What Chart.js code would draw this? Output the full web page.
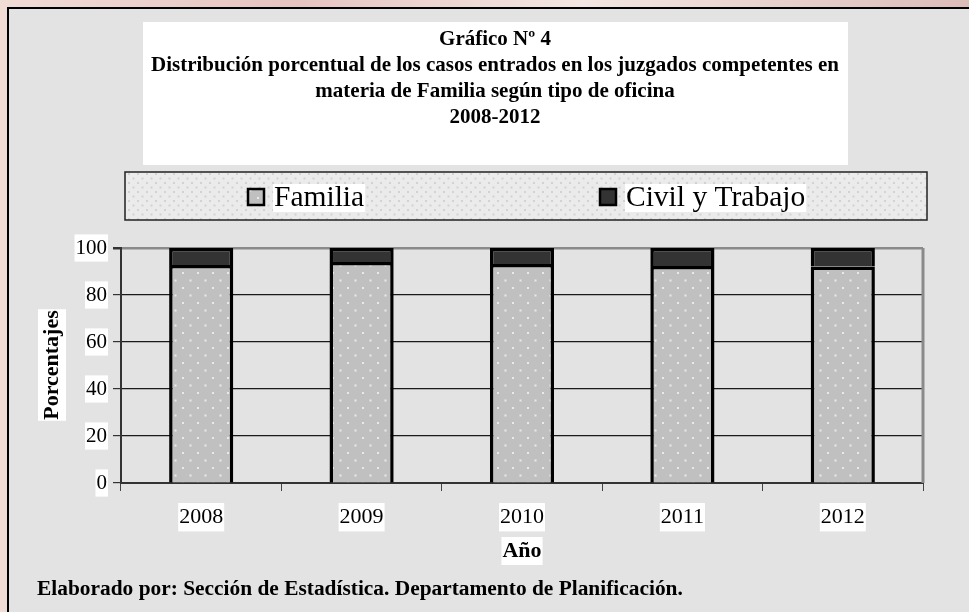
<!DOCTYPE html>
<html>
<head>
<meta charset="utf-8">
<script src="https://cdn.jsdelivr.net/npm/chart.js@4.4.1/dist/chart.umd.min.js"></script>
<style>
  body { margin: 0; background: #ecd6d2; }
  #wrap { width: 969px; height: 612px; }
</style>
</head>
<body>
<div id="wrap"><canvas id="myChart" width="969" height="612"></canvas></div>
<script>
// DATA ----------------------------------------------------------------
var years = ['2008', '2009', '2010', '2011', '2012'];
var familia = [92.8, 94.0, 93.2, 92.3, 92.1];
var civilTrabajo = [7.2, 6.0, 6.8, 7.7, 7.9];
var yTicks = [0, 20, 40, 60, 80, 100];

var titleLines = [
  'Gráfico Nº 4',
  'Distribución porcentual de los casos entrados en los juzgados competentes en',
  'materia de Familia según tipo de oficina',
  '2008-2012'
];

// PATTERNS ------------------------------------------------------------
function dotPattern(bg, dot, size) {
  var c = document.createElement('canvas');
  c.width = size; c.height = size;
  var g = c.getContext('2d');
  g.fillStyle = bg;
  g.fillRect(0, 0, size, size);
  g.fillStyle = dot;
  g.fillRect(2, 2, 2, 2);
  g.fillRect(2 + size / 2, 2 + size / 2, 2, 2);
  return g.createPattern(c, 'repeat');
}
var ctx = document.getElementById('myChart').getContext('2d');
var famFill = dotPattern('#c0c0c0', '#e9e9e9', 15);
var legendFill = dotPattern('#ebebeb', '#d2d2d2', 9);

var SERIF = '"Liberation Serif", "Times New Roman", serif';

function textBox(c, txt, x, y, align) {
  var w = c.measureText(txt).width;
  var left = align === 'center' ? x - w / 2 : x;
  c.fillStyle = '#fff';
  c.fillRect(left - 1, y - 14, w + 2, 28);
  c.fillStyle = '#000';
  c.fillText(txt, x, y);
}

// BACKGROUND / DECORATION PLUGIN ---------------------------------------
var decor = {
  id: 'decor',
  beforeDraw: function(chart) {
    var c = chart.ctx;
    c.save();
    var grd = c.createLinearGradient(0, 0, 969, 0);
    grd.addColorStop(0, '#f2dcd6');
    grd.addColorStop(0.3, '#e6c4c0');
    grd.addColorStop(0.6, '#f4e6e2');
    grd.addColorStop(1, '#dcbcb8');
    c.fillStyle = grd;
    c.fillRect(0, 0, 969, 612);
    // grey panel
    c.fillStyle = '#e3e3e3';
    c.fillRect(8, 8, 961, 604);
    c.strokeStyle = '#000';
    c.lineWidth = 2;
    c.beginPath();
    c.moveTo(8, 612); c.lineTo(8, 8); c.lineTo(969, 8);
    c.stroke();
    // title box
    c.fillStyle = '#fff';
    c.fillRect(143, 22, 705, 143);
    c.fillStyle = '#000';
    c.font = 'bold 21px ' + SERIF;
    c.textAlign = 'center';
    c.textBaseline = 'middle';
    titleLines.forEach(function(t, i) {
      c.fillText(t, 495, 40 + i * 26);
    });
    // legend box
    c.fillStyle = legendFill;
    c.fillRect(125, 172, 802, 48);
    c.strokeStyle = '#222';
    c.lineWidth = 1.5;
    c.strokeRect(125, 172, 802, 48);
    c.restore();
  },
  afterDraw: function(chart) {
    var c = chart.ctx;
    var area = chart.chartArea;
    c.save();
    // right border of plot
    c.strokeStyle = '#8a8a8a';
    c.lineWidth = 3;
    c.beginPath();
    c.moveTo(area.right, area.top);
    c.lineTo(area.right, area.bottom);
    c.stroke();
    c.textBaseline = 'middle';
    // legend items
    var lx = [248, 600];
    c.font = '29.5px ' + SERIF;
    chart.data.datasets.forEach(function(ds, i) {
      c.fillStyle = ds.backgroundColor;
      c.fillRect(lx[i], 189, 16, 16);
      c.strokeStyle = '#000';
      c.lineWidth = 2.5;
      c.strokeRect(lx[i], 189, 16, 16);
      c.textAlign = 'left';
      textBox(c, ds.label, lx[i] + 26, 198, 'left');
    });
    // axis titles
    c.font = 'bold 22px ' + SERIF;
    c.textAlign = 'center';
    textBox(c, 'Año', (area.left + area.right) / 2, 551, 'center');
    c.save();
    c.translate(52, 365);
    c.rotate(-Math.PI / 2);
    textBox(c, 'Porcentajes', 0, 0, 'center');
    c.restore();
    // footer
    c.font = 'bold 21.4px ' + SERIF;
    c.textAlign = 'left';
    c.fillStyle = '#000';
    c.fillText('Elaborado por: Sección de Estadística. Departamento de Planificación.', 37, 589);
    c.restore();
  }
};

// CHART ---------------------------------------------------------------
var chart = new Chart(ctx, {
  type: 'bar',
  data: {
    labels: years,
    datasets: [{
      label: 'Familia',
      data: familia,
      backgroundColor: famFill,
      borderColor: '#000',
      borderWidth: 3.5
    }, {
      label: 'Civil y Trabajo',
      data: civilTrabajo,
      backgroundColor: '#333333',
      borderColor: '#000',
      borderWidth: 3.5
    }]
  },
  options: {
    responsive: false,
    animation: false,
    layout: { padding: { left: 0, top: 248, right: 46, bottom: 0 } },
    datasets: { bar: { barPercentage: 0.4, categoryPercentage: 1 } },
    plugins: {
      legend: { display: false },
      title: { display: false },
      tooltip: { enabled: false }
    },
    scales: {
      x: {
        stacked: true,
        afterFit: function(s) { s.height = 129; },
        grid: { offset: true, drawOnChartArea: false, tickLength: 8, color: '#444', lineWidth: 1 },
        border: { color: '#333', width: 2 },
        ticks: {
          color: '#000',
          padding: 13,
          font: { family: SERIF, size: 22 },
          showLabelBackdrop: true,
          backdropColor: '#fff',
          backdropPadding: 1
        }
      },
      y: {
        stacked: true,
        min: 0,
        max: 100,
        afterFit: function(s) { s.width = 121; },
        afterBuildTicks: function(s) { s.ticks = yTicks.map(function(v) { return { value: v }; }); },
        grid: {
          color: function(c) { return c.tick && c.tick.value === 100 ? '#8a8a8a' : '#1a1a1a'; },
          lineWidth: function(c) { return c.tick && c.tick.value === 100 ? 2.5 : 1.2; },
          tickColor: '#333',
          tickLength: 8
        },
        border: { color: '#333', width: 2 },
        ticks: {
          color: '#000',
          padding: 6,
          font: { family: SERIF, size: 21 },
          showLabelBackdrop: true,
          backdropColor: '#fff',
          backdropPadding: 1
        }
      }
    }
  },
  plugins: [decor]
});
</script>
</body>
</html>
